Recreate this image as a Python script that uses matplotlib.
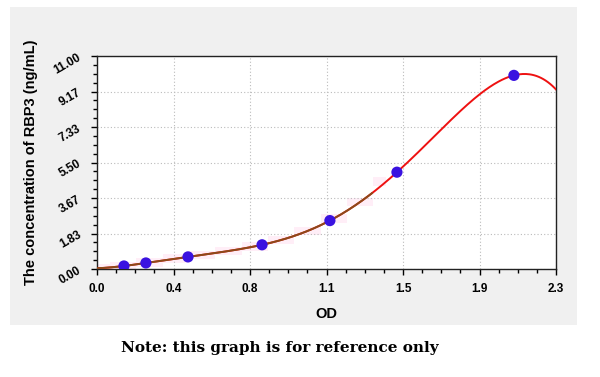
import numpy as np
import matplotlib
matplotlib.use("Agg")
import matplotlib.pyplot as plt
from matplotlib.patches import Rectangle
from matplotlib.ticker import FixedLocator, AutoMinorLocator

# data
od = [0.135, 0.245, 0.456, 0.827, 1.167, 1.503, 2.089]
conc = [0.156, 0.312, 0.625, 1.25, 2.5, 5.0, 10.0]
x_ticks = [0.0, 2.3/6, 2*2.3/6, 3*2.3/6, 4*2.3/6, 5*2.3/6, 2.3]
x_tick_labels = ["0.0", "0.4", "0.8", "1.1", "1.5", "1.9", "2.3"]
y_ticks = [0.0, 11/6, 2*11/6, 3*11/6, 4*11/6, 5*11/6, 11.0]
y_tick_labels = ["0.00", "1.83", "3.67", "5.50", "7.33", "9.17", "11.00"]

W, H = 600, 377
fig = plt.figure(figsize=(6, 3.77), dpi=100)
fig.patch.set_facecolor("white")
fig.patches.append(Rectangle((10/W, 1-325/H), (577-10)/W, (325-7)/H,
                             transform=fig.transFigure, facecolor="#f0f0f0",
                             edgecolor="none", zorder=-5))

ax = fig.add_axes([97/W, 1-269/H, (556-97)/W, (269-56)/H])
ax.set_zorder(2)
ax.set_facecolor("white")
ax.set_xlim(0, 2.3)
ax.set_ylim(0, 11)

coef = np.polyfit(od, conc, 5)
xs = np.linspace(0, 2.3, 400)
ys = np.polyval(coef, xs)

# faint pink band along the lower curve
xb = np.linspace(0, 1.45, 12)
yb = np.polyval(coef, xb)
ax.fill_between(xb, yb - 0.22, yb + 0.22, step="mid", color="#ffe0f2", alpha=0.55, lw=0, zorder=1)

ax.plot(xs, ys, color="#ee1111", lw=1.4, zorder=3)
m = xs <= 1.38
ax.plot(xs[m], ys[m], color="#8b4a1a", lw=1.4, zorder=4)
ax.scatter(od, conc, s=65, color="#3a12e0", edgecolor="none", zorder=5)

ax.xaxis.set_major_locator(FixedLocator(x_ticks))
ax.set_xticklabels(x_tick_labels)
ax.yaxis.set_major_locator(FixedLocator(y_ticks))
ax.set_yticklabels(y_tick_labels, rotation=30)
ax.xaxis.set_minor_locator(AutoMinorLocator(4))
ax.yaxis.set_minor_locator(AutoMinorLocator(4))
ax.tick_params(which="major", direction="out", length=4, width=1, labelsize=8.5, pad=6)
ax.tick_params(which="minor", direction="out", length=3, width=1)
for lab in ax.get_xticklabels() + ax.get_yticklabels():
    lab.set_fontweight("bold")
    lab.set_fontfamily("Liberation Sans")
ax.grid(True, which="major", linestyle=(0, (1, 2)), color="#bbbbbb", lw=0.8)
for s in ax.spines.values():
    s.set_color("#222222")
    s.set_linewidth(1)

ax.set_xlabel("OD", fontsize=10.5, fontweight="bold", family="Liberation Sans", labelpad=9)
ax.set_ylabel("The concentration of RBP3 (ng/mL)", fontsize=10.5, fontweight="bold",
              family="Liberation Sans", labelpad=10)

fig.text(280/W, 1-348/H, "Note: this graph is for reference only", ha="center", va="center",
         fontsize=11, fontweight="bold", family="DejaVu Serif")

fig.savefig("out.png", dpi=100)
